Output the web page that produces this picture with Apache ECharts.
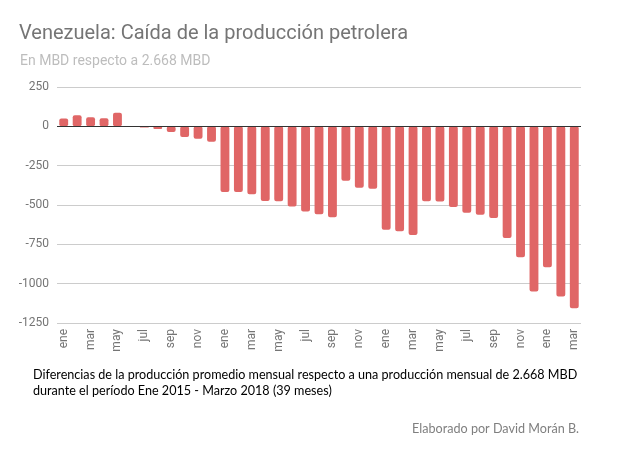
<!DOCTYPE html>
<html><head><meta charset="utf-8">
<script src="https://cdn.jsdelivr.net/npm/echarts@6/dist/echarts.min.js"></script>
<style>html,body{margin:0;padding:0;background:#fff}#c{width:630px;height:463px}</style>
</head><body><div id="c"></div>
<script>
const months = ['ene','feb','mar','abr','may','jun','jul','ago','sep','oct','nov','dic',
  'ene','feb','mar','abr','may','jun','jul','ago','sep','oct','nov','dic',
  'ene','feb','mar','abr','may','jun','jul','ago','sep','oct','nov','dic',
  'ene','feb','mar'];
const diff = [49,70,57,51,87,-3,-8,-17,-36,-68,-79,-98,
  -418,-418,-431,-474,-476,-510,-541,-558,-578,-346,-391,-397,
  -658,-667,-690,-476,-477,-512,-550,-562,-582,-709,-832,-1049,
  -896,-1081,-1157];
const yTicks = {min:-1250, max:250, step:250};
const titleText = 'Venezuela: Caída de la producción petrolera';
const subtitleText = 'En MBD respecto a 2.668 MBD';
const note1 = 'Diferencias de la producción promedio mensual respecto a una producción mensual de 2.668 MBD';
const note2 = 'durante el período Ene 2015 - Marzo 2018 (39 meses)';
const credit = 'Elaborado por David Morán B.';

const chart = echarts.init(document.getElementById('c'));
chart.setOption({
  animation:false,
  title:[{text:titleText,left:14,top:19,textStyle:{fontFamily:'Roboto',fontSize:20,fontWeight:'normal',color:'#757575'}},
         {text:subtitleText,left:15,top:49,textStyle:{fontFamily:'Roboto',fontSize:14,fontWeight:'normal',color:'#bdbdbd'}}],
  grid:{left:57,right:49,top:87,bottom:140},
  xAxis:{type:'category',data:months,
    axisLine:{show:false,onZero:false},axisTick:{show:false},
    axisLabel:{interval:1,rotate:90,fontFamily:'Roboto',fontSize:12,color:'#757575',margin:6}},
  yAxis:{type:'value',min:yTicks.min,max:yTicks.max,interval:yTicks.step,
    axisLine:{show:false},axisTick:{show:false},
    axisLabel:{fontFamily:'Roboto',fontSize:12,color:'#757575',margin:8,formatter:v=>String(v)},
    splitLine:{lineStyle:{color:'#cccccc',width:1}}},
  series:[{type:'bar',data:diff,barWidth:'66%',
    itemStyle:{color:'#e06666',borderRadius:2},
    markLine:{silent:true,symbol:'none',label:{show:false},
      lineStyle:{color:'#333333',type:'solid',width:1},data:[{yAxis:0}]}}],
  graphic:[
    {type:'text',left:33,top:367,style:{text:note1+'\n'+note2,fontFamily:'Lato',fontSize:12.6,lineHeight:16,fill:'#000'}},
    {type:'text',right:51,top:422,style:{text:credit,fontFamily:'Lato',fontSize:12.6,fill:'#7f7f7f'}}
  ]
});
</script></body></html>
